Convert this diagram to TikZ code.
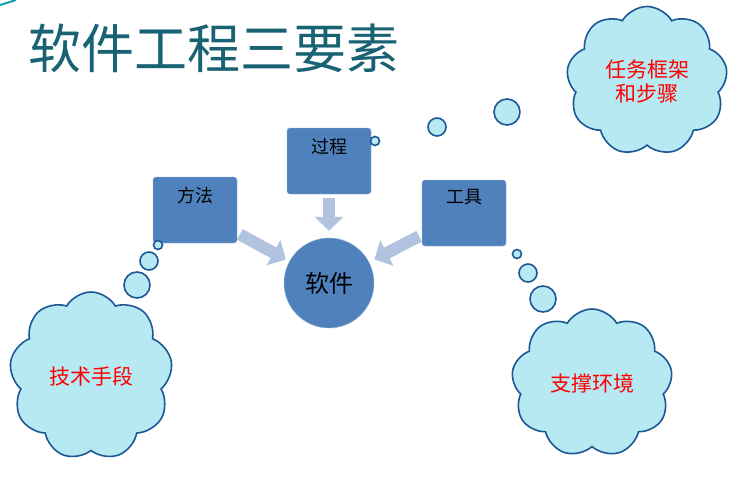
\documentclass[tikz,border=0pt]{standalone}
\usepackage{fontspec}
\setmainfont{Noto Sans CJK SC}
\usetikzlibrary{shapes.symbols,arrows.meta,positioning}

\definecolor{boxblue}{RGB}{79,129,189}
\definecolor{arrowgrey}{RGB}{178,195,223}
\definecolor{cloudfill}{RGB}{182,233,242}
\definecolor{clouddraw}{RGB}{28,88,150}
\definecolor{titleteal}{RGB}{24,98,116}

\tikzset{
  box/.style={draw=boxblue!60!white,fill=boxblue,rounded corners=3pt,minimum width=84pt,minimum height=66pt,inner sep=0pt},
  boxtext/.style={font=\fontsize{18}{20}\selectfont,inner sep=0pt},
  fat/.style={draw=arrowgrey,line width=12pt,-{Triangle[width=28pt,length=14pt]}},
  thought/.style={cloud,cloud puffs=9,cloud puff arc=120,aspect=1,draw=clouddraw,fill=cloudfill,line width=1.6pt,text=red,align=center,font=\fontsize{21}{24}\selectfont,inner sep=0pt},
  bubble/.style={circle,draw=clouddraw,fill=cloudfill,line width=1.6pt,inner sep=0pt}
}

\begin{document}
\begin{tikzpicture}[x=1pt,y=-1pt]
  \useasboundingbox (0,0) rectangle (740,477);
  \fill[white] (0,0) rectangle (740,477);
  \draw[titleteal!60!cyan,line width=2pt] (0,5) -- (16,0);

  \node[font=\fontsize{53}{56}\selectfont,text=titleteal,anchor=west,inner sep=0pt] (title) at (28,48) {软件工程三要素};

  % three boxes and the centre
  \node[box] (fangfa) at (195,210) {};
  \node[box] (guocheng) at (329,161) {};
  \node[box] (gongju) at (464,213) {};
  \node[boxtext,below=10pt of fangfa.north] (fftext) {方法};
  \node[boxtext,below=10pt of guocheng.north] (gctext) {过程};
  \node[boxtext,below=9pt of gongju.north] (gjtext) {工具};
  \node[circle,draw=boxblue!60!white,fill=boxblue,minimum size=90pt,inner sep=0pt,font=\fontsize{24}{26}\selectfont] (ruanjian) at (329,283) {软件};

  \draw[fat,shorten <=3pt,shorten >=4pt] (fangfa) -- (ruanjian);
  \draw[fat,shorten <=4pt,shorten >=7pt] (guocheng) -- (ruanjian);
  \draw[fat,shorten <=3pt,shorten >=6pt] (gongju) -- (ruanjian);

  % thought clouds
  \node[thought,minimum width=163pt,minimum height=168pt] (jishu) at (91,376) {技术手段};
  \node[bubble,minimum size=26pt] (jb1) at (137,285) {};
  \node[bubble,minimum size=18pt] (jb2) at (149,261) {};
  \node[bubble,minimum size=9pt] (jb3) at (158,245) {};

  \node[thought,minimum width=161pt,minimum height=148pt] (zhicheng) at (592,383) {支撑环境};
  \node[bubble,minimum size=26pt] (zb1) at (543,299) {};
  \node[bubble,minimum size=18pt] (zb2) at (528,273) {};
  \node[bubble,minimum size=9pt] (zb3) at (517,254) {};

  \node[thought,minimum width=161pt,minimum height=149pt] (renwu) at (647,81) {任务框架\\和步骤};
  \node[bubble,minimum size=26pt] (rb1) at (507,112) {};
  \node[bubble,minimum size=18pt] (rb2) at (437,127) {};
  \node[bubble,minimum size=9pt] (rb3) at (375,141) {};
\end{tikzpicture}
\end{document}
